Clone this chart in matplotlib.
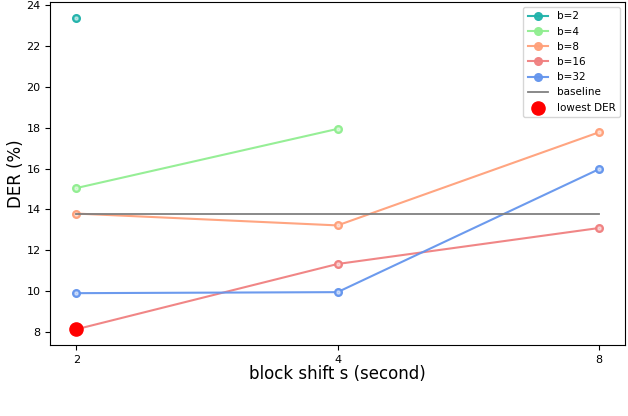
import numpy as np
import matplotlib
matplotlib.use("Agg")
import matplotlib.pyplot as plt

shifts = ['2', '4', '8']
labels = ['b=2', 'b=4', 'b=8', 'b=16', 'b=32']
colors = ['lightseagreen', 'lightgreen', 'lightsalmon', 'lightcoral', 'cornflowerblue']
# DER per block size (nan = not available)
der_b2 = [23.4, np.nan, np.nan]
der_b4 = [15.05, 17.95, np.nan]
der_b8 = [13.8, 13.22, 17.78]
der_b16 = [8.13, 11.33, 13.09]
der_b32 = [9.9, 9.95, 15.97]
baseline = [13.8, 13.8, 13.8]
lowest_x = '2'
lowest_der = 8.13

x = np.arange(len(shifts))
series = [der_b2, der_b4, der_b8, der_b16, der_b32]

fig = plt.figure(figsize=(6.28, 4.16), dpi=100)
ax = fig.add_axes([0.08, 0.171, 0.915, 0.824])

for vals, lab, c in zip(series, labels, colors):
    ax.plot(x, vals, color=c, marker='o', markersize=5.5, markerfacecolor=c,
            markeredgecolor=c, label=lab, alpha=0.95)
    ax.plot(x, vals, color='white', marker='o', markersize=2.2, linestyle='none',
            alpha=0.5)
ax.plot(x, baseline, color='grey', label='baseline', linewidth=1.3)
ax.scatter([shifts.index(lowest_x)], [lowest_der], color='red', s=90, zorder=3,
           label='lowest DER')

ax.set_xticks(x)
ax.set_xticklabels(shifts)
ax.tick_params(labelsize=8)
ax.set_xlabel('block shift s (second)', fontsize=12, labelpad=0.5)
ax.set_ylabel('DER (%)', fontsize=12, labelpad=1)
ax.legend(loc='upper right', fontsize=7.5)

plt.savefig('out.png', dpi=100)
